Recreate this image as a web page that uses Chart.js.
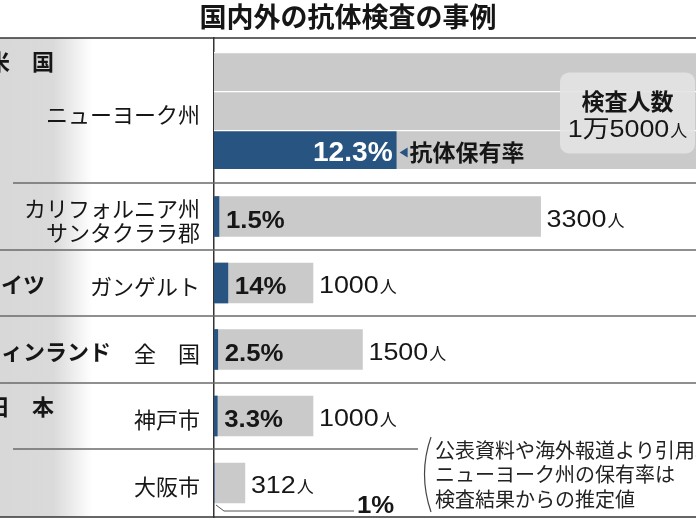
<!DOCTYPE html>
<html lang="ja">
<head>
<meta charset="utf-8">
<title>国内外の抗体検査の事例</title>
<script src="https://cdn.jsdelivr.net/npm/chart.js@4.4.1/dist/chart.umd.min.js"></script>
<style>
  html, body { margin: 0; padding: 0; background: #fff; }
  #wrap { width: 696px; height: 522px; }
</style>
</head>
<body>
<div id="wrap"><canvas id="chart" width="696" height="522"></canvas></div>
<script>
// 国内外の抗体検査の事例 – 検査人数(灰)と抗体保有者(青)

// データ
const regions = ['ニューヨーク州', ['カリフォルニア州', 'サンタクララ郡'], 'ガンゲルト', '全　国', '神戸市', '大阪市'];
const countries = ['米　国', 'ドイツ', 'フィンランド', '日　本'];
const countryOfRow = [0, 0, 1, 2, 3, 3];
const tested = [15000, 3300, 1000, 1500, 1000, 312];
const ratePct = [12.3, 1.5, 14, 2.5, 3.3, 1];
const positives = [1845, 50, 140, 38, 33, 3];
const testedLabels = ['1万5000人', '3300人', '1000人', '1500人', '1000人', '312人'];
const noteLines = ['公表資料や海外報道より引用。', 'ニューヨーク州の保有率は', '検査結果からの推定値'];

// レイアウト
const rowWeights = [145, 67, 66, 67, 66, 68];
const countryX = [-12, -21, -21, -12];
const xMax = 4870;
const noteX = 435, noteTop = 437;

const JP = "'Noto Sans CJK JP', sans-serif";
const NUM = "'Liberation Sans', Arial, 'Noto Sans CJK JP', sans-serif";
const GRAY = '#cacaca', BLUE = '#285482', INK = '#161616';
const WIDE = 1.12;   // 数字は横長の書体なので少し横に伸ばす

// 行ごとに高さの違うカテゴリ軸
const CategoryScale = Chart.CategoryScale || Chart.registry.getScale('category');
class RowScale extends CategoryScale {
    rowEdge(i) {
        const w = this.options.weights;
        let total = 0, acc = 0;
        w.forEach((v, k) => { total += v; if (k < i) acc += v; });
        return this.top + this.height * acc / total;
    }
    getPixelForValue(value) {
        if (typeof value !== 'number') value = this.parse(value);
        if (value === null || isNaN(value)) return NaN;
        return (this.rowEdge(value) + this.rowEdge(value + 1)) / 2;
    }
    getValueForPixel(pixel) {
        const n = this.options.weights.length;
        for (let i = 0; i < n; i++) if (pixel < this.rowEdge(i + 1)) return i;
        return n - 1;
    }
}
RowScale.id = 'rows';
Chart.register(RowScale);

const onlyNY = arr => arr.map((v, i) => i === 0 ? v : null);
const exceptNY = arr => arr.map((v, i) => i === 0 ? null : v);

function hline(ctx, x0, x1, y) {
    ctx.beginPath();
    ctx.moveTo(x0, y);
    ctx.lineTo(x1, y);
    ctx.stroke();
}

function fillWide(ctx, txt, x, y, sx) {
    ctx.save();
    ctx.translate(x, y);
    ctx.scale(sx, 1);
    ctx.fillText(txt, 0, 0);
    ctx.restore();
    return ctx.measureText(txt).width * sx;
}

// 「3300人」のように人だけ小さく描く(textAlign left 前提)
function peopleText(ctx, txt, x, base, size, measureOnly) {
    const num = txt.replace(/人$/, '');
    const small = `${Math.round(size * 0.72)}px ${JP}`;
    ctx.font = `${size}px ${NUM}`;
    const w = ctx.measureText(num).width * WIDE;
    ctx.font = small;
    const wp = ctx.measureText('人').width;
    if (measureOnly) return w + wp + 1;
    ctx.font = `${size}px ${NUM}`;
    fillWide(ctx, num, x, base, WIDE);
    ctx.font = small;
    ctx.fillText('人', x + w + 1, base);
    return w + wp + 1;
}

const decor = {
    id: 'decor',
    beforeDraw(chart) {
        const { ctx, chartArea: a, width, height } = chart;
        ctx.save();
        ctx.fillStyle = '#fff';
        ctx.fillRect(0, 0, width, height);
        const g = ctx.createLinearGradient(0, 0, 92, 0);
        g.addColorStop(0, '#d8d8d8');
        g.addColorStop(0.58, '#dadada');
        g.addColorStop(1, '#ffffff');
        ctx.fillStyle = g;
        ctx.fillRect(0, a.top, 92, a.bottom - a.top);
        ctx.restore();
    },
    afterDraw(chart) {
        const { ctx, chartArea: a, width } = chart;
        const ys = chart.scales.y;
        ctx.save();

        // 罫線
        ctx.lineWidth = 1.5;
        ctx.strokeStyle = '#333';
        hline(ctx, 0, width, a.top);
        hline(ctx, 0, width, a.bottom);
        ctx.strokeStyle = '#6a6a6a';
        for (let i = 1; i < regions.length; i++) {
            const y = ys.rowEdge(i);
            const inner = countryOfRow[i] === countryOfRow[i - 1];
            hline(ctx, inner ? 13 : 0, y > noteTop ? noteX - 17 : width, y);
        }

        // 国名
        ctx.fillStyle = INK;
        ctx.textAlign = 'left';
        ctx.textBaseline = 'middle';
        ctx.font = `bold 22px ${JP}`;
        countries.forEach((name, c) => {
            const rows = countryOfRow.map((v, i) => v === c ? i : -1).filter(i => i >= 0);
            const top = ys.rowEdge(rows[0]);
            const bottom = ys.rowEdge(rows[rows.length - 1] + 1);
            const y = bottom - top > 100 ? top + 24 : (top + bottom) / 2 + 2;
            ctx.fillText(name, countryX[c], y);
        });

        // 検査人数の囲み(ニューヨーク州)
        const band1 = chart.getDatasetMeta(0).data[0];
        const band3 = chart.getDatasetMeta(3).data[0];
        const nyTop = band1.y - band1.height / 2, nyBottom = band3.y + band3.height / 2;
        const boxCy = (nyTop + nyBottom) / 2 + 2;
        const bx = a.right - 136, bw = 135, by = boxCy - 40, bh = 81;
        ctx.fillStyle = 'rgba(228,228,228,0.88)';
        ctx.beginPath();
        ctx.roundRect(bx, by, bw, bh, 9);
        ctx.fill();
        ctx.fillStyle = INK;
        ctx.textAlign = 'center';
        ctx.font = `bold 23px ${JP}`;
        ctx.fillText('検査人数', bx + bw / 2, boxCy - 11);
        ctx.textAlign = 'left';
        ctx.textBaseline = 'alphabetic';
        const tw = peopleText(ctx, testedLabels[0], 0, 0, 24, true);
        peopleText(ctx, testedLabels[0], bx + bw / 2 - tw / 2, boxCy + 24, 24);

        // ニューヨーク州の抗体保有率
        const nyPos = chart.getDatasetMeta(2).data[0];
        ctx.fillStyle = '#fff';
        ctx.textAlign = 'right';
        ctx.font = `bold 27px ${NUM}`;
        fillWide(ctx, ratePct[0] + '%', nyPos.x - 4, nyPos.y + 11, 1.04);
        ctx.fillStyle = BLUE;
        ctx.beginPath();
        ctx.moveTo(nyPos.x + 3, nyPos.y + 3);
        ctx.lineTo(nyPos.x + 11, nyPos.y - 2);
        ctx.lineTo(nyPos.x + 11, nyPos.y + 8);
        ctx.closePath();
        ctx.fill();
        ctx.fillStyle = INK;
        ctx.textAlign = 'left';
        ctx.textBaseline = 'middle';
        ctx.font = `bold 23px ${JP}`;
        ctx.fillText('抗体保有率', nyPos.x + 13, nyPos.y + 3);

        // 各地の保有率と検査人数
        const mTested = chart.getDatasetMeta(5);
        const mPos = chart.getDatasetMeta(4);
        ctx.textBaseline = 'alphabetic';
        for (let i = 1; i < regions.length; i++) {
            const el = mTested.data[i];
            ctx.fillStyle = INK;
            peopleText(ctx, testedLabels[i], el.x + 6, el.y + 10, 24);
            const label = ratePct[i] + '%';
            ctx.font = `bold 23px ${NUM}`;
            if (i < regions.length - 1) {
                const x = Math.max(a.left + 10, mPos.data[i].x + 7);
                fillWide(ctx, label, x, el.y + 11, WIDE);
            } else {
                // 大阪市は棒が細すぎるので引き出し線で
                const bottom = el.y + el.height / 2;
                ctx.strokeStyle = '#555';
                ctx.lineWidth = 1;
                ctx.beginPath();
                ctx.moveTo(a.left + 2, bottom + 2);
                ctx.lineTo(a.left + 10, bottom + 8);
                ctx.lineTo(a.left + 140, bottom + 8);
                ctx.stroke();
                fillWide(ctx, label, a.left + 143, bottom + 10, WIDE);
            }
        }

        // 注記
        ctx.strokeStyle = '#444';
        ctx.lineWidth = 1.2;
        ctx.beginPath();
        ctx.moveTo(noteX - 4, noteTop);
        ctx.quadraticCurveTo(noteX - 17, noteTop + 37, noteX - 4, noteTop + 75);
        ctx.stroke();
        ctx.fillStyle = '#222';
        ctx.textBaseline = 'middle';
        ctx.font = `20px ${JP}`;
        noteLines.forEach((t, k) => ctx.fillText(t, noteX, noteTop + 13 + k * 24.5));

        ctx.restore();
    }
};

const bandStyle = { backgroundColor: GRAY, borderColor: '#fff', borderWidth: { top: 1.5 }, barThickness: 39, grouped: true, skipNull: true };

new Chart(document.getElementById('chart'), {
    type: 'bar',
    data: {
        labels: regions,
        datasets: [
            // ニューヨーク州は目盛りに収まらないので3段に折って描く
            { label: '検査人数', data: onlyNY(tested), stack: 's1', ...bandStyle },
            { label: '検査人数', data: onlyNY(tested), stack: 's2', ...bandStyle },
            { label: '抗体保有者', data: onlyNY(positives), stack: 's3', ...bandStyle, backgroundColor: BLUE },
            { label: '検査人数', data: onlyNY(tested), stack: 's3', ...bandStyle },
            { label: '抗体保有者', data: exceptNY(positives), backgroundColor: BLUE, barThickness: 40, grouped: false },
            { label: '検査人数', data: exceptNY(tested), backgroundColor: GRAY, barThickness: 40, grouped: false }
        ]
    },
    options: {
        indexAxis: 'y',
        responsive: false,
        animation: false,
        events: [],
        layout: { padding: { top: 0, right: 0, bottom: 5, left: 0 } },
        plugins: {
            legend: { display: false },
            tooltip: { enabled: false },
            title: {
                display: true,
                text: '国内外の抗体検査の事例',
                color: INK,
                font: { family: JP, size: 27, weight: 'bold', lineHeight: 1.2 },
                padding: { top: 1, bottom: 4.6 }
            }
        },
        scales: {
            x: { type: 'linear', min: 0, max: xMax, display: false, stacked: false },
            y: {
                type: 'rows',
                weights: rowWeights,
                grid: { display: false, drawTicks: false },
                border: { display: true, color: '#333', width: 1.5 },
                ticks: { color: INK, font: { family: JP, size: 22, lineHeight: 1.1 }, padding: 14, labelOffset: 4, autoSkip: false },
                afterFit(scale) {
                    scale.width = 214;
                    scale.paddingTop = 0;
                    scale.paddingBottom = 0;
                }
            }
        }
    },
    plugins: [decor]
});
</script>
</body>
</html>
